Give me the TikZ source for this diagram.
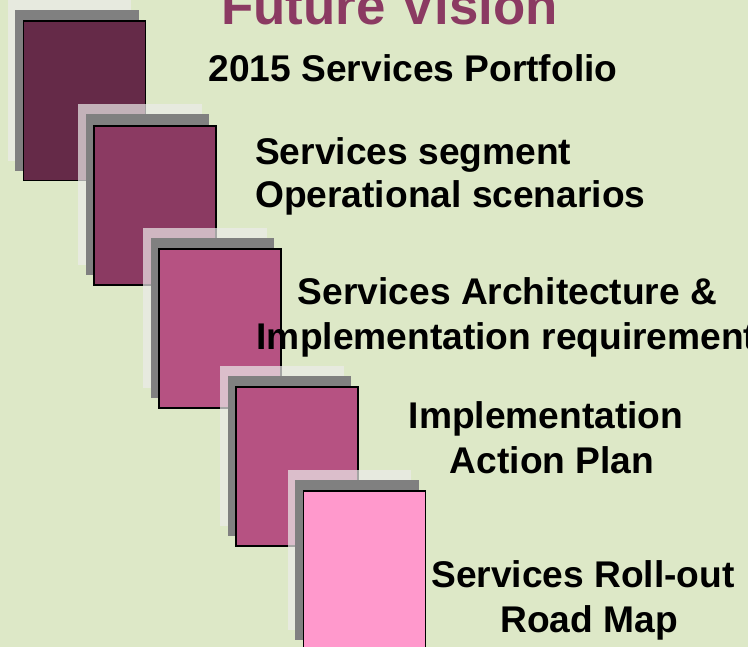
\documentclass[tikz,border=0pt]{standalone}
\usepackage{fontspec}
\setmainfont{Liberation Sans}
\definecolor{bgc}{RGB}{221,232,199}
\definecolor{boxA}{RGB}{101,42,72}
\definecolor{boxB}{RGB}{139,58,98}
\definecolor{boxC}{RGB}{182,82,130}
\definecolor{boxE}{RGB}{255,153,204}
\definecolor{titlec}{RGB}{139,58,98}
\definecolor{shadowdark}{RGB}{128,128,128}
\definecolor{shadowlight}{RGB}{236,236,234}
\tikzset{
  sheetbase/.style={anchor=north west, inner sep=0pt, outer sep=0pt,
    minimum width=123.5bp, minimum height=160.5bp},
  lightsheet/.style={sheetbase, fill=shadowlight, fill opacity=0.7},
  darksheet/.style={sheetbase, fill=shadowdark},
  frontsheet/.style={anchor=north west, inner sep=0pt, outer sep=0pt,
    minimum width=122bp, minimum height=159bp, draw=black, line width=1.6bp},
  lbl/.style={font=\fontsize{37.3}{44}\selectfont\bfseries, inner sep=0pt, anchor=base},
  lblleft/.style={lbl, anchor=base west},
  titlelbl/.style={font=\fontsize{53}{60}\selectfont\bfseries, text=titlec, inner sep=0pt, anchor=base}
}
\newcommand\sheetstack[4]{%
  \node[lightsheet] (#1l) at (#2-15,#3-20.5) {};
  \node[darksheet] (#1d) at (#2-7.5,#3-10.5) {};
  \node[frontsheet, fill=#4] (#1) at (#2+0.8,#3+0.8) {};
}
\begin{document}
\begin{tikzpicture}[x=1bp, y=-1bp]
  \useasboundingbox (0,0) rectangle (748,647);
  \clip (0,0) rectangle (748,647);
  \fill[bgc] (0,0) rectangle (748,647);
  \sheetstack{sa}{22.5}{20.5}{boxA}
  \sheetstack{sb}{93}{125}{boxB}
  \sheetstack{sc}{158}{248}{boxC}
  \sheetstack{sd}{235}{386}{boxC}
  \sheetstack{se}{302.5}{490}{boxE}
  \node[titlelbl] (title) at (389.5,25) {Future Vision};
  \node[lbl] (t1) at (413,82) {2015 Services Portfolio};
  \node[lblleft] (t2a) at (255,165) {Services segment};
  \node[lblleft] (t2b) at (255,208) {Operational scenarios};
  \node[lbl] (t3a) at (507.5,304) {Services Architecture \&};
  \node[lbl] (t3b) at (506.5,349) {Implementation requirement};
  \node[lbl] (t4a) at (546,428) {Implementation};
  \node[lbl] (t4b) at (552,473) {Action Plan};
  \node[lbl] (t5a) at (583,587) {Services Roll-out};
  \node[lbl] (t5b) at (589,632) {Road Map};
\end{tikzpicture}
\end{document}
